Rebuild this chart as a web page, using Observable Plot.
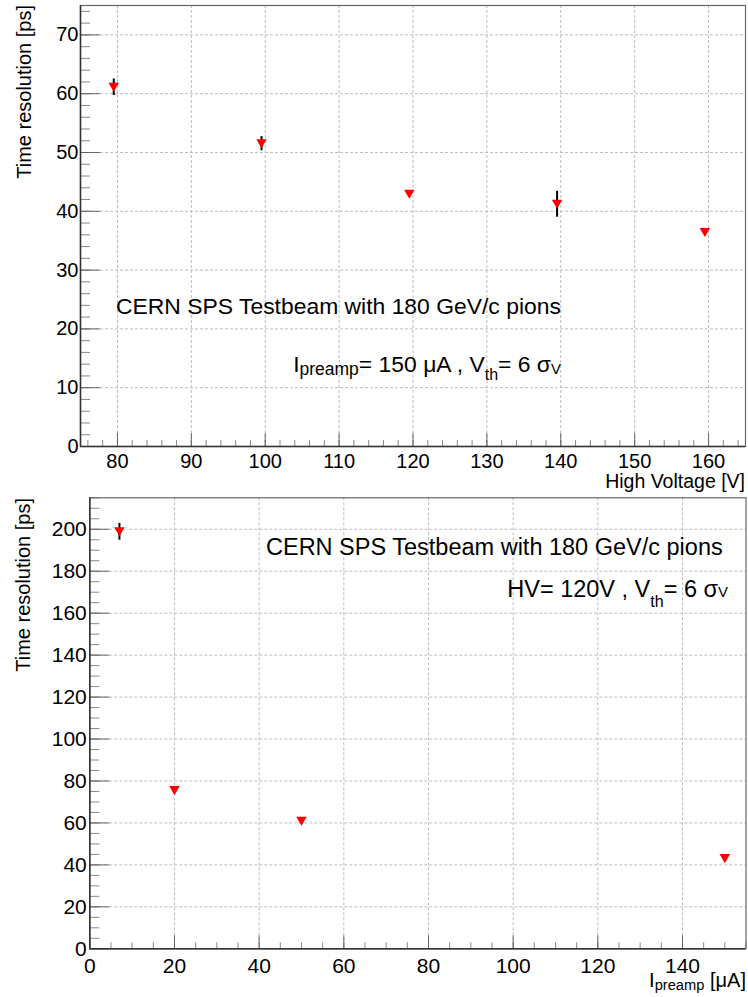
<!DOCTYPE html>
<html>
<head>
<meta charset="utf-8">
<script src="https://cdn.jsdelivr.net/npm/d3@7"></script>
<script src="https://cdn.jsdelivr.net/npm/@observablehq/plot@0.6"></script>
<style>
  html, body { margin: 0; padding: 0; background: #fff; }
  #chart { width: 748px; }
  #chart svg { display: block; }
</style>
</head>
<body>
<div id="chart"></div>
<script>
// ---------- Data ----------
// Top panel: time resolution vs high voltage (I_preamp = 150 uA)
const hvVoltage    = [79.5, 99.5, 119.5, 139.5, 159.5];
const hvResolution = [61.1, 51.5, 42.9, 41.2, 36.4];
const hvError      = [1.4, 1.2, 0.4, 2.2, 0.4];

// Bottom panel: time resolution vs preamp current (HV = 120 V)
const ipCurrent    = [7, 20, 50, 150];
const ipResolution = [198.8, 75.4, 60.8, 43.0];
const ipError      = [4.0, 0.8, 0.8, 0.6];

// Tick labels
const hvXTicks = [80, 90, 100, 110, 120, 130, 140, 150, 160];
const hvYTicks = [0, 10, 20, 30, 40, 50, 60, 70];
const ipXTicks = [0, 20, 40, 60, 80, 100, 120, 140];
const ipYTicks = [0, 20, 40, 60, 80, 100, 120, 140, 160, 180, 200];
const hvXMinor = d3.range(76, 165, 2);
const hvYMinor = d3.range(0, 75, 2);
const ipXMinor = d3.range(0, 156, 5);
const ipYMinor = d3.range(0, 216, 5);

// Texts
const beamText = "CERN SPS Testbeam with 180 GeV/c pions";
const yTitle = "Time resolution [ps]";

const FONT = "'Liberation Sans', Arial, Helvetica, sans-serif";

const hvData = hvVoltage.map((v, i) => ({x: v, y: hvResolution[i], e: hvError[i]}));
const ipData = ipCurrent.map((v, i) => ({x: v, y: ipResolution[i], e: ipError[i]}));

// Downward triangle, centred on its bounding box
const triangleDown = {
  draw(context, size) {
    const s = Math.sqrt(4 * size / Math.sqrt(3));
    const h = s * Math.sqrt(3) / 2;
    context.moveTo(-s / 2, -h / 2);
    context.lineTo(s / 2, -h / 2);
    context.lineTo(0, h / 2);
    context.closePath();
  }
};

function panel(cfg) {
  const gridStyle = {stroke: "#bdbdbd", strokeOpacity: 1, strokeWidth: 1, strokeDasharray: "3,2"};
  return Plot.plot({
    width: 748,
    height: cfg.height,
    marginTop: cfg.mt, marginBottom: cfg.mb, marginLeft: cfg.ml, marginRight: cfg.mr,
    style: {fontFamily: FONT, fontSize: "20px", color: "#000", background: "#fff", overflow: "visible"},
    x: {domain: cfg.xDomain},
    y: {domain: cfg.yDomain},
    marks: [
      Plot.gridX(cfg.xTicks, gridStyle),
      Plot.gridY(cfg.yTicks, gridStyle),
      Plot.axisY(cfg.yMinor, {tickSize: -10, tickFormat: () => "", label: null, stroke: "#8a8a8a"}),
      Plot.axisX(cfg.xMinor, {tickSize: -6, tickFormat: () => "", label: null, stroke: "#8a8a8a"}),
      Plot.axisY(cfg.yTicks, {tickSize: -20, tickPadding: cfg.yPad, label: null, stroke: "#666", fontSize: cfg.tickFont}),
      Plot.axisX(cfg.xTicks, {tickSize: -13, tickPadding: cfg.xPad, label: null, stroke: "#666", fontSize: cfg.tickFont}),
      Plot.frame({stroke: "#666", strokeWidth: 1.2}),
      Plot.ruleX([cfg.xDomain[0]], {stroke: "#333", strokeWidth: 1.5}),
      Plot.ruleY([cfg.yDomain[0]], {stroke: "#333", strokeWidth: 1.5}),
      Plot.ruleX(cfg.data, {x: "x", y1: d => d.y - d.e, y2: d => d.y + d.e, stroke: "#000", strokeWidth: 2}),
      Plot.dot(cfg.data, {x: "x", y: "y", symbol: triangleDown, r: 3.9, fill: "#ff0000", stroke: null})
    ]
  });
}

// parts: [text, fontSize, dy-from-baseline]
function addText(svg, {x, y, anchor = "start", rotate = 0, parts}) {
  const t = d3.select(svg).append("text")
    .attr("transform", `translate(${x},${y})` + (rotate ? ` rotate(${rotate})` : ""))
    .attr("text-anchor", anchor)
    .attr("fill", "#000")
    .style("font-family", FONT);
  let cur = 0;
  for (const [str, size, off] of parts) {
    const o = off || 0;
    t.append("tspan")
      .attr("font-size", size)
      .attr("dy", o - cur)
      .text(str);
    cur = o;
  }
  return t;
}

const root = document.getElementById("chart");

// ---------- Top panel ----------
const topPanel = panel({
  height: 490, mt: 5, mb: 44, ml: 80, mr: 3,
  xDomain: [75, 165], yDomain: [0, 75],
  xTicks: hvXTicks, yTicks: hvYTicks, xMinor: hvXMinor, yMinor: hvYMinor,
  xPad: 20, yPad: 22, tickFont: 20,
  data: hvData
});
root.appendChild(topPanel);

addText(topPanel, {x: 31, y: 5, anchor: "end", rotate: -90, parts: [[yTitle, 20]]});
addText(topPanel, {x: 745, y: 487.5, anchor: "end", parts: [["High Voltage [V]", 19.5]]});
addText(topPanel, {x: 116, y: 314, parts: [[beamText, 22.9]]});
addText(topPanel, {x: 561, y: 372, anchor: "end", parts: [
  ["I", 22.9], ["preamp", 17.5, 3], ["= 150 \u03BCA , V", 22.9, 0], ["th", 16, 8], ["= 6 \u03C3", 22.9, 0], ["V", 15, 2]
]});

// ---------- Bottom panel ----------
const bottomPanel = panel({
  height: 507, mt: 7.3, mb: 48.7, ml: 89.3, mr: 2.5,
  xDomain: [0, 155], yDomain: [0, 215],
  xTicks: ipXTicks, yTicks: ipYTicks, xMinor: ipXMinor, yMinor: ipYMinor,
  xPad: 22, yPad: 23, tickFont: 21,
  data: ipData
});
root.appendChild(bottomPanel);

addText(bottomPanel, {x: 29.5, y: 8, anchor: "end", rotate: -90, parts: [[yTitle, 20]]});
addText(bottomPanel, {x: 746, y: 497, anchor: "end", parts: [
  ["I", 20], ["preamp", 14.7, 3], [" [\u03BCA]", 20, 0]
]});
addText(bottomPanel, {x: 266, y: 65, parts: [[beamText, 23.5]]});
addText(bottomPanel, {x: 728, y: 107, anchor: "end", parts: [
  ["HV= 120V , V", 23.5], ["th", 16, 10], ["= 6 \u03C3", 23.5, 0], ["V", 15, 0]
]});
</script>
</body>
</html>
